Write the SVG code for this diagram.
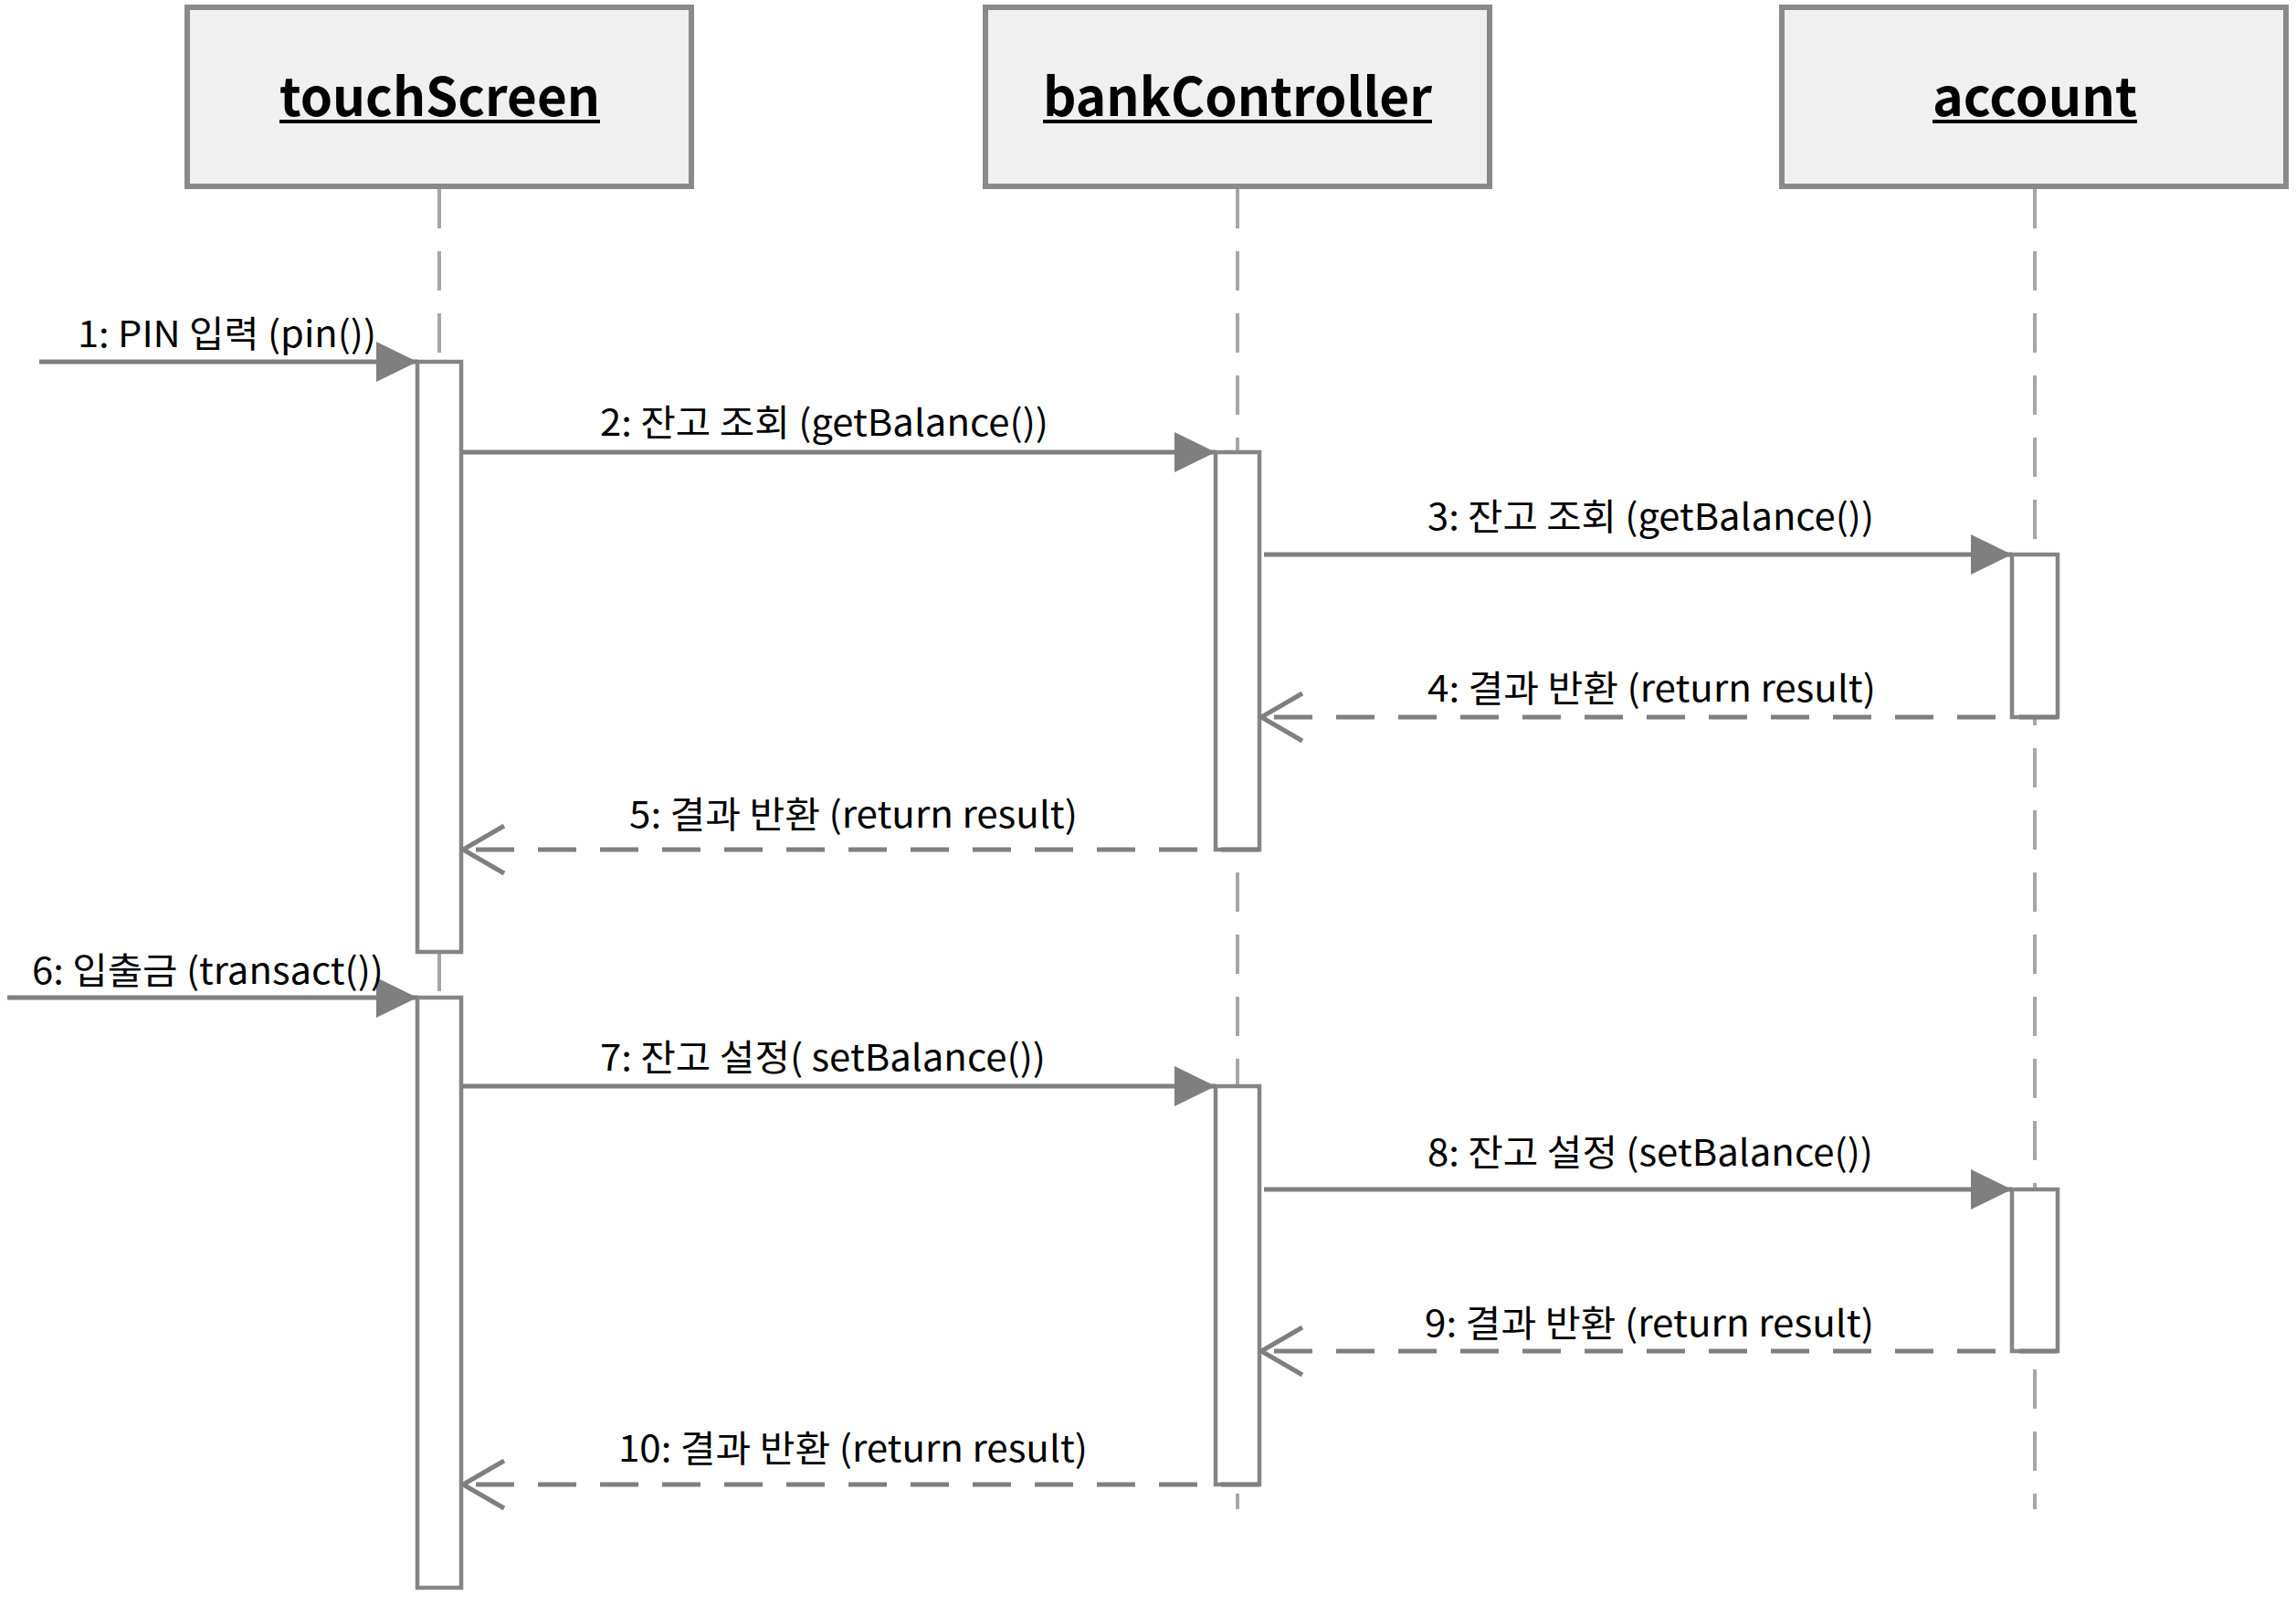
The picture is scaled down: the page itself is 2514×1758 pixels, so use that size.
<svg xmlns="http://www.w3.org/2000/svg" width="2514" height="1758" viewBox="0 0 2514 1758">
<style>
.head{fill:#f0f0f0;stroke:#8a8a8a;stroke-width:6}
.htxt{font-family:"Noto Sans CJK KR","Open Sans",sans-serif;font-weight:bold;font-size:58px;fill:#000}
.uline{stroke:#000;stroke-width:4}
.life{stroke:#a6a6a6;stroke-width:4;stroke-dasharray:43 25;fill:none}
.act{fill:#fff;stroke:#858585;stroke-width:4.5}
.msg{stroke:#7f7f7f;stroke-width:5;fill:none}
.ret{stroke:#7f7f7f;stroke-width:5;fill:none;stroke-dasharray:42 26}
.lbl{font-family:"Noto Sans CJK KR","Noto Sans",sans-serif;font-size:40px;fill:#000}
</style>
<defs>
<marker id="filled" markerUnits="userSpaceOnUse" markerWidth="48" markerHeight="48" refX="45" refY="22" orient="auto">
<path d="M0,0 L45,22 L0,44 Z" fill="#7f7f7f"/>
</marker>
<marker id="open" markerUnits="userSpaceOnUse" markerWidth="52" markerHeight="60" refX="48" refY="29" orient="auto">
<path d="M3,3 L48,29 L3,55" fill="none" stroke="#7f7f7f" stroke-width="5"/>
</marker>
</defs>
<rect width="2514" height="1758" fill="#fff"/>

<g id="lifelines">
<line class="life" x1="481" y1="207" x2="481" y2="396"/>
<line class="life" x1="481" y1="1042" x2="481" y2="1092"/>
<line class="life" x1="1355" y1="207" x2="1355" y2="1652"/>
<line class="life" x1="2228" y1="207" x2="2228" y2="1652"/>
</g>

<g id="touchScreen">
<rect class="head" x="205" y="8" width="552" height="196"/>
<text class="htxt" x="306" y="127" textLength="351" lengthAdjust="spacingAndGlyphs">touchScreen</text>
<line class="uline" x1="306" y1="133" x2="657" y2="133"/>
</g>
<g id="bankController">
<rect class="head" x="1079" y="8" width="552" height="196"/>
<text class="htxt" x="1142" y="127" textLength="426" lengthAdjust="spacingAndGlyphs">bankController</text>
<line class="uline" x1="1142" y1="133" x2="1568" y2="133"/>
</g>
<g id="account">
<rect class="head" x="1951" y="8" width="552" height="196"/>
<text class="htxt" x="2116" y="127" textLength="224" lengthAdjust="spacingAndGlyphs">account</text>
<line class="uline" x1="2116" y1="133" x2="2340" y2="133"/>
</g>

<g id="activations">
<rect id="act-ts1" class="act" x="457" y="396" width="48" height="646"/>
<rect id="act-ts2" class="act" x="457" y="1092" width="48" height="646"/>
<rect id="act-bc1" class="act" x="1331" y="495" width="48" height="435"/>
<rect id="act-bc2" class="act" x="1331" y="1189" width="48" height="436"/>
<rect id="act-ac1" class="act" x="2203" y="607" width="50" height="178"/>
<rect id="act-ac2" class="act" x="2203" y="1302" width="50" height="177"/>
</g>

<g id="connectors">
<line class="msg" x1="43" y1="396" x2="457" y2="396" marker-end="url(#filled)"/>
<line class="msg" x1="505" y1="495" x2="1331" y2="495" marker-end="url(#filled)"/>
<line class="msg" x1="1384" y1="607" x2="2203" y2="607" marker-end="url(#filled)"/>
<line class="ret" x1="2253" y1="785" x2="1381" y2="785" marker-end="url(#open)"/>
<line class="ret" x1="1379" y1="930" x2="507" y2="930" marker-end="url(#open)"/>
<line class="msg" x1="8" y1="1092" x2="457" y2="1092" marker-end="url(#filled)"/>
<line class="msg" x1="505" y1="1189" x2="1331" y2="1189" marker-end="url(#filled)"/>
<line class="msg" x1="1384" y1="1302" x2="2203" y2="1302" marker-end="url(#filled)"/>
<line class="ret" x1="2253" y1="1479" x2="1381" y2="1479" marker-end="url(#open)"/>
<line class="ret" x1="1379" y1="1625" x2="507" y2="1625" marker-end="url(#open)"/>
</g>

<g id="labels">
<text class="lbl" x="85" y="380" textLength="327" lengthAdjust="spacingAndGlyphs">1: PIN 입력 (pin())</text>
<text class="lbl" x="657" y="477" textLength="491" lengthAdjust="spacingAndGlyphs">2: 잔고 조회 (getBalance())</text>
<text class="lbl" x="1563" y="580" textLength="489" lengthAdjust="spacingAndGlyphs">3: 잔고 조회 (getBalance())</text>
<text class="lbl" x="1563" y="768" textLength="491" lengthAdjust="spacingAndGlyphs">4: 결과 반환 (return result)</text>
<text class="lbl" x="689" y="906" textLength="491" lengthAdjust="spacingAndGlyphs">5: 결과 반환 (return result)</text>
<text class="lbl" x="35" y="1077" textLength="385" lengthAdjust="spacingAndGlyphs">6: 입출금 (transact())</text>
<text class="lbl" x="657" y="1172" textLength="488" lengthAdjust="spacingAndGlyphs">7: 잔고 설정( setBalance())</text>
<text class="lbl" x="1563" y="1276" textLength="488" lengthAdjust="spacingAndGlyphs">8: 잔고 설정 (setBalance())</text>
<text class="lbl" x="1560" y="1463" textLength="492" lengthAdjust="spacingAndGlyphs">9: 결과 반환 (return result)</text>
<text class="lbl" x="677" y="1600" textLength="514" lengthAdjust="spacingAndGlyphs">10: 결과 반환 (return result)</text>
</g>
</svg>
